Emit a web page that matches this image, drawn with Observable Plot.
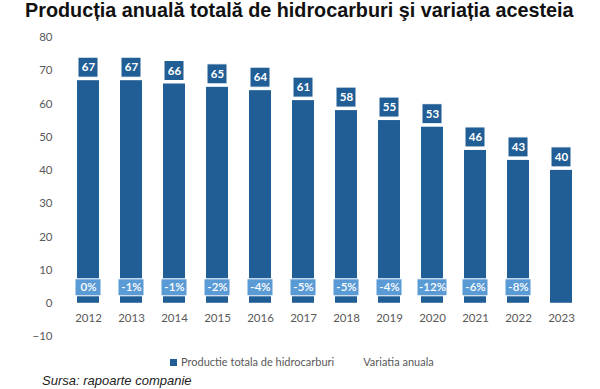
<!DOCTYPE html>
<html><head><meta charset="utf-8">
<script src="https://cdn.jsdelivr.net/npm/d3@7"></script>
<script src="https://cdn.jsdelivr.net/npm/@observablehq/plot@0.6"></script>
<style>
body{margin:0;background:#fff;width:600px;height:389px;position:relative;overflow:hidden;font-family:"Liberation Sans",Arial,sans-serif}
#title{position:absolute;left:25px;top:-1px;font-weight:bold;font-size:19.8px;color:#111;white-space:nowrap}
#chart{position:absolute;left:0;top:26px}
#legend{position:absolute;top:355px;left:170px;font-family:Lato,sans-serif;font-size:11px;color:#595959;white-space:nowrap}
#legend span.sw{display:inline-block;width:7px;height:7px;background:#215e95;margin-right:4px}
#caption{position:absolute;left:42px;top:373px;font-style:italic;font-size:13px;color:#222}
</style></head>
<body>
<div id="title">Producția anuală totală de hidrocarburi şi variația acesteia</div>
<div id="chart"></div>
<div id="legend"><span class="sw"></span>Productie totala de hidrocarburi<span style="display:inline-block;width:29px"></span>Variatia anuala</div>
<div id="caption">Sursa: rapoarte companie</div>
<script>
const years = ["2012","2013","2014","2015","2016","2017","2018","2019","2020","2021","2022","2023"];
const production = [67,67,66,65,64,61,58,55,53,46,43,40];
const variation = ["0%","-1%","-1%","-2%","-4%","-5%","-5%","-4%","-12%","-6%","-8%",null];
const yTicks = [-10,0,10,20,30,40,50,60,70,80];

const data = years.map((y,i)=>({year:y, value:production[i], variation:variation[i], zero:0}));
const varData = data.filter(d=>d.variation!==null);
const varWide = varData.filter(d=>d.variation.length>3);
const varNarrow = varData.filter(d=>d.variation.length<=3);
const dark = "#215e95", light = "#5b9bd5", grey = "#595959";

const plot = Plot.plot({
  width:600, height:320,
  marginTop:11, marginBottom:10, marginLeft:63, marginRight:14,
  style:{fontFamily:"Lato, sans-serif", fontSize:"11.5px", color:grey},
  x:{domain:years, paddingInner:0.5, paddingOuter:0.25, axis:null},
  y:{domain:[-10,80], ticks:yTicks, tickSize:0, tickPadding:11, label:null},
  marks:[
    Plot.axisY({ticks:yTicks, tickSize:0, tickPadding:11, label:null, fill:grey, fontSize:11.5}),
    Plot.text(["mil. bep"], {frameAnchor:"left", dx:20, rotate:-90, fill:grey, fontSize:11.5}),
    Plot.barY(data, {x:"year", y:"value", fill:dark}),
    Plot.barY(data, {x:"year", y1:"value", y2:"value", insetTop:-23, insetBottom:3, insetLeft:1, insetRight:1, fill:dark, stroke:"#fff", strokeWidth:1}),
    Plot.text(data, {x:"year", y:"value", text:d=>String(d.value), dy:-13, fill:"#fff", fontWeight:"bold", fontSize:11.5}),
    Plot.barY(varNarrow, {x:"year", y1:"zero", y2:"zero", insetTop:-24, insetBottom:7, insetLeft:-2, insetRight:-2, fill:light, stroke:"#fff", strokeWidth:1}),
    Plot.barY(varWide, {x:"year", y1:"zero", y2:"zero", insetTop:-24, insetBottom:7, insetLeft:-4, insetRight:-4, fill:light, stroke:"#fff", strokeWidth:1}),
    Plot.text(varData, {x:"year", y:"zero", text:"variation", dy:-15.5, fill:"#fff", fontWeight:"600", fontSize:11.5}),
    Plot.text(data, {x:"year", y:"zero", text:"year", dy:15, fill:grey, fontSize:11.5})
  ]
});
document.getElementById("chart").appendChild(plot);
</script>
</body></html>
